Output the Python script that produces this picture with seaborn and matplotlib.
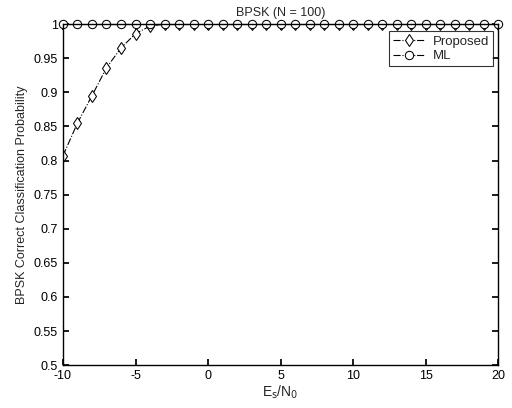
import numpy as np
import pandas as pd
import matplotlib
matplotlib.use("Agg")
import matplotlib.pyplot as plt
import seaborn as sns

snr_db = list(range(-10, 21))
proposed = [0.807, 0.855, 0.895, 0.936, 0.965, 0.986, 0.997] + [1.0] * 24
ml = [1.0] * 31

sns.set_theme(style="white")
plt.rcParams['font.family'] = ['Liberation Sans', 'DejaVu Sans']
plt.rcParams['axes.unicode_minus'] = False

fig = plt.figure(figsize=(5.12, 4.08), dpi=100)
ax = fig.add_axes([0.123, 0.105, 0.850, 0.836])

df = pd.concat([
    pd.DataFrame({"x": snr_db, "y": proposed, "s": "Proposed"}),
    pd.DataFrame({"x": snr_db, "y": ml, "s": "ML"}),
])

sns.lineplot(data=df[df.s == "Proposed"], x="x", y="y", ax=ax, color="black",
             linestyle="-.", linewidth=0.8, marker="d", markersize=6,
             markerfacecolor="white", markeredgecolor="black", label="Proposed")
sns.lineplot(data=df[df.s == "ML"], x="x", y="y", ax=ax, color="black",
             linestyle="-.", linewidth=0.8, marker="o", markersize=6,
             markerfacecolor="white", markeredgecolor="black", label="ML",
             clip_on=False)

ax.set_xlim(-10, 20)
ax.set_ylim(0.5, 1.0)
ax.set_xticks([-10, -5, 0, 5, 10, 15, 20])
ax.set_yticks(np.arange(0.5, 1.001, 0.05))
ax.set_yticklabels(["0.5", "0.55", "0.6", "0.65", "0.7", "0.75", "0.8",
                    "0.85", "0.9", "0.95", "1"])
ax.tick_params(direction="in", length=4, labelsize=9, colors="black",
               top=True, right=True, bottom=True, left=True)
for sp in ax.spines.values():
    sp.set_color("black")
    sp.set_linewidth(1.0)

ax.set_xlabel(r"E$_\mathrm{s}$/N$_\mathrm{0}$", fontsize=10, labelpad=1)
ax.set_ylabel("BPSK Correct Classification Probability", fontsize=9)
ax.set_title("BPSK (N = 100)", fontsize=9, pad=6)

leg = ax.legend(loc="upper right", bbox_to_anchor=(1.003, 0.998), fontsize=9.5,
                frameon=True, fancybox=False, edgecolor="black",
                borderpad=0.3, handlelength=2.4, labelspacing=0.2,
                handletextpad=0.6)
leg.get_frame().set_linewidth(0.8)

fig.savefig("out.png", dpi=100, facecolor="white")
